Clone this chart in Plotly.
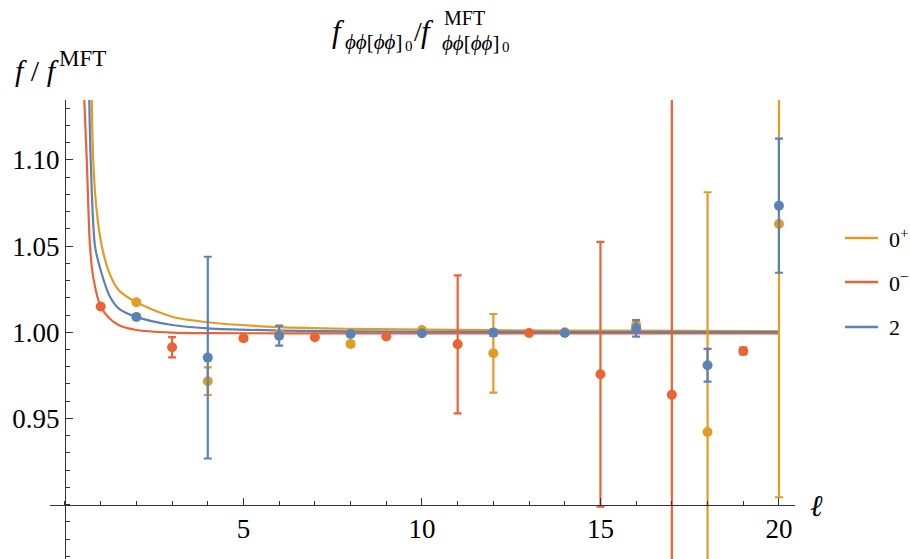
import plotly.graph_objects as go

# ---------------- data ----------------
series_names = ["0<sup>+</sup>", "0<sup>−</sup>", "2"]
colors = ["#E19C24", "#EB6235", "#5E81B5"]

ell_plus = [2, 4, 6, 8, 10, 12, 14, 16, 18, 20]
f_plus = [1.0174, 0.9716, 0.9990, 0.9932, 1.0013, 0.9878, 1.0000, 1.0040, 0.9422, 1.0628]
err_plus = [0.0005, 0.0080, 0.0020, 0.0015, 0.0005, 0.0228, 0.0010, 0.0020, 0.1390, 0.1585]

ell_minus = [1, 3, 5, 7, 9, 11, 13, 15, 17, 19]
f_minus = [1.0149, 0.9913, 0.9965, 0.9971, 0.9975, 0.9930, 0.9996, 0.9756, 0.9638, 0.9891]
err_minus = [0.0003, 0.0059, 0.0012, 0.0008, 0.0006, 0.0400, 0.0004, 0.0768, 0.2000, 0.0020]

ell_two = [2, 4, 6, 8, 10, 12, 14, 16, 18, 20]
f_two = [1.0089, 0.9853, 0.9980, 0.9990, 0.9994, 0.9998, 0.9996, 1.0023, 0.9809, 1.0734]
err_two = [0.0003, 0.0585, 0.0058, 0.0008, 0.0005, 0.0018, 0.0005, 0.0048, 0.0095, 0.0389]

# fitted curves
curve_plus_x = [0.75, 0.79, 0.88, 1.03, 1.25, 1.5, 2.0, 3.0, 4.0, 6.0, 8.0, 12.0, 16.0, 20.0]
curve_plus_y = [1.135, 1.100, 1.072, 1.050, 1.034, 1.0245, 1.0174, 1.0090, 1.0058, 1.0030, 1.0020, 1.0012, 1.0009, 1.0007]
curve_minus_x = [0.54, 0.61, 0.70, 0.79, 1.0, 1.25, 1.5, 2.0, 3.0, 4.0, 6.0, 10.0, 15.0, 20.0]
curve_minus_y = [1.135, 1.100, 1.050, 1.032, 1.0149, 1.0080, 1.0042, 1.0013, 0.9998, 0.9995, 0.9994, 0.9994, 0.9994, 0.9994]
curve_two_x = [0.68, 0.72, 0.84, 1.0, 1.25, 1.5, 2.0, 3.0, 4.0, 6.0, 8.0, 12.0, 16.0, 20.0]
curve_two_y = [1.135, 1.100, 1.050, 1.036, 1.021, 1.0139, 1.0089, 1.0042, 1.0023, 1.0010, 1.0005, 1.0002, 1.0001, 1.0001]

x_ticks = [5, 10, 15, 20]
y_ticks = [0.95, 1.00, 1.05, 1.10]

# ---------------- layout geometry ----------------
W, H = 910, 559
ML, MR, MT, MB = 50, 115, 100, 0
PW, PH = W - ML - MR, H - MT - MB
x_range = [-0.42, 20.45]
y_range = [0.8685, 1.1347]
x_cross, y_cross = 0.0, 0.9

def px_x(p):
    return (p - ML) / PW

def px_y(p):
    return (H - MB - p) / PH

font_serif = "Liberation Serif"

fig = go.Figure()

curves = [(curve_plus_x, curve_plus_y), (curve_minus_x, curve_minus_y), (curve_two_x, curve_two_y)]
for (cx, cy), c in zip(curves, colors):
    fig.add_trace(go.Scatter(x=cx, y=cy, mode="lines", line=dict(color=c, width=2.2, shape="spline", smoothing=0.8),
                             showlegend=False, hoverinfo="skip"))

points = [(ell_plus, f_plus, err_plus), (ell_minus, f_minus, err_minus), (ell_two, f_two, err_two)]
for (px_, py_, pe), c in zip(points, colors):
    fig.add_trace(go.Scatter(x=px_, y=py_, mode="markers",
                             marker=dict(color=c, size=10),
                             error_y=dict(type="data", array=pe, visible=True, color=c, thickness=2.2, width=4),
                             showlegend=False, cliponaxis=True))

axis_color = "#333333"
fig.update_layout(
    width=W, height=H,
    margin=dict(l=ML, r=MR, t=MT, b=MB, pad=0),
    plot_bgcolor="white", paper_bgcolor="white",
    showlegend=False,
    xaxis=dict(range=x_range, showgrid=False, zeroline=False, showline=True, linecolor=axis_color, linewidth=1,
               anchor="free", position=(y_cross - y_range[0]) / (y_range[1] - y_range[0]),
               tickmode="array", tickvals=x_ticks, ticktext=[str(v) for v in x_ticks],
               ticks="inside", ticklen=7, tickcolor=axis_color, tickwidth=1,
               minor=dict(dtick=1, tick0=0, ticks="inside", ticklen=4, tickcolor=axis_color, tickwidth=1),
               tickfont=dict(family=font_serif, size=27, color="black")),
    yaxis=dict(range=y_range, showgrid=False, zeroline=False, showline=True, linecolor=axis_color, linewidth=1,
               anchor="free", position=(x_cross - x_range[0]) / (x_range[1] - x_range[0]),
               tickmode="array", tickvals=y_ticks, ticktext=["%.2f" % v for v in y_ticks],
               ticks="inside", ticklen=7, tickcolor=axis_color, tickwidth=1,
               minor=dict(dtick=0.01, tick0=0.9, ticks="inside", ticklen=4, tickcolor=axis_color, tickwidth=1),
               tickfont=dict(family=font_serif, size=27, color="black")),
)

annotations = []

def txt(x, y, text, size, anchor="left"):
    annotations.append(dict(xref="paper", yref="paper", x=px_x(x), y=px_y(y), xanchor=anchor, yanchor="middle",
                            text=text, showarrow=False, borderpad=0, borderwidth=0,
                            font=dict(family=font_serif, size=size, color="black")))

# title  f_{ϕϕ[ϕϕ]0} / f^{MFT}_{ϕϕ[ϕϕ]0}
sub_txt = "<i>ϕϕ</i>[<i>ϕϕ</i>]"
txt(332, 31, "<i>f</i>", 31)
txt(345, 42, sub_txt, 21)
txt(405, 46, "0", 15)
txt(414, 31, "/", 28)
txt(421, 31, "<i>f</i>", 31)
txt(444, 18, "MFT", 20)
txt(442, 43, sub_txt, 21)
txt(502, 47, "0", 15)

# y label  f / f^MFT
txt(15, 70, "<i>f</i> / <i>f</i>", 30)
txt(59, 58, "MFT", 23)

# x label
txt(810, 505, "<i>ℓ</i>", 30)

# legend (manual)
shapes = []
legend_y = [238, 282, 327]
for name, c, ly in zip(series_names, colors, legend_y):
    shapes.append(dict(type="line", xref="paper", yref="paper", x0=px_x(845), x1=px_x(878), y0=px_y(ly), y1=px_y(ly),
                       line=dict(color=c, width=2.5)))
    txt(889, ly, name, 22)

fig.update_layout(annotations=annotations, shapes=shapes)
fig.write_html("out.html", config={"displayModeBar": False},
               post_script="document.body.style.margin='0px';")
